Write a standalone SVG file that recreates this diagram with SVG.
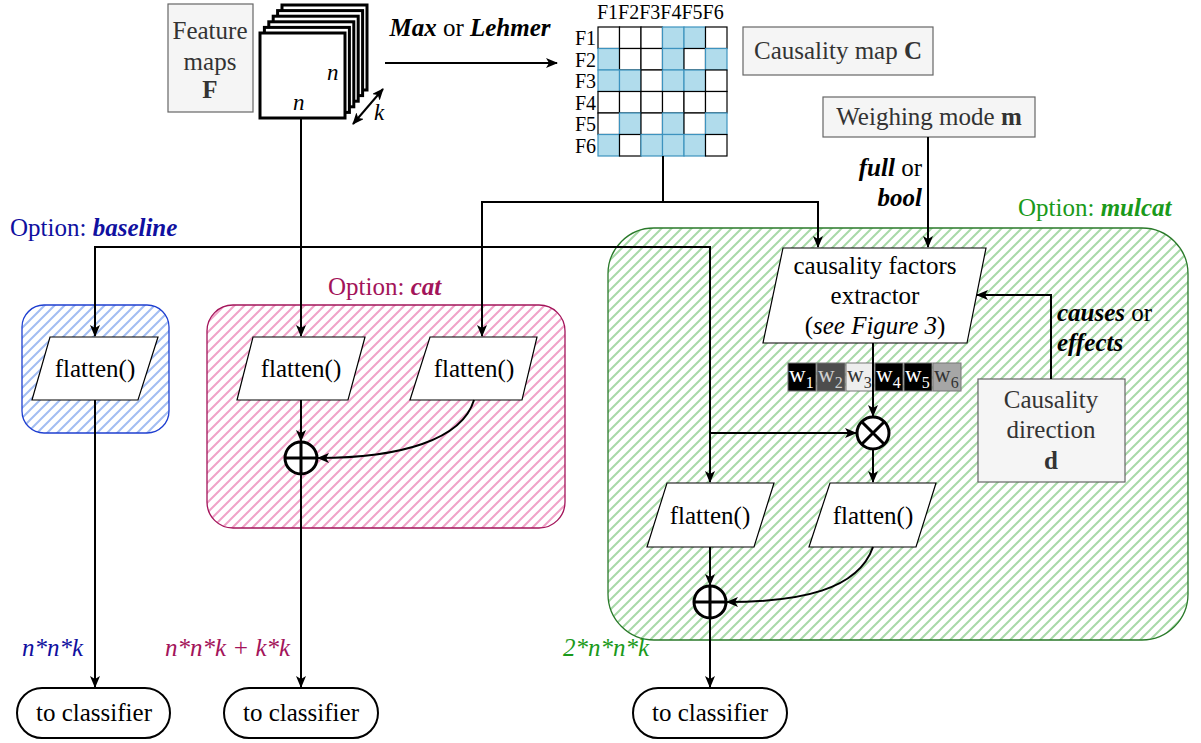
<svg xmlns="http://www.w3.org/2000/svg" width="1201" height="743" viewBox="0 0 1201 743" font-family="Liberation Serif">
<defs>
<marker id="ah" viewBox="0 0 12 10" refX="11" refY="5" markerWidth="12" markerHeight="10" markerUnits="userSpaceOnUse" orient="auto-start-reverse"><path d="M0,0 L12,5 L0,10 L3,5 z" fill="#000"/></marker>
<pattern id="hb" width="10" height="10" patternUnits="userSpaceOnUse"><path d="M0,10 L10,0 M-2,2 L2,-2 M8,12 L12,8" stroke="#a3bdf2" stroke-width="2"/></pattern>
<pattern id="hp" width="10" height="10" patternUnits="userSpaceOnUse"><path d="M0,10 L10,0 M-2,2 L2,-2 M8,12 L12,8" stroke="#f0a3c8" stroke-width="2"/></pattern>
<pattern id="hg" width="10" height="10" patternUnits="userSpaceOnUse"><path d="M0,10 L10,0 M-2,2 L2,-2 M8,12 L12,8" stroke="#a8d9a8" stroke-width="2"/></pattern>
</defs>
<style>
text{font-size:25px;fill:#000}
.gray{fill:#f5f5f5;stroke:#666;stroke-width:1.2}
.gt{fill:#333}
.para{fill:#fff;stroke:#000;stroke-width:1.2}
.c{text-anchor:middle}
.r{text-anchor:end}
.bi{font-weight:bold;font-style:italic}
.it{font-style:italic}
.conn path{fill:none;stroke:#000;stroke-width:2}
.arr{marker-end:url(#ah)}
.sq{fill:#fff;stroke:#000;stroke-width:3}
.cell{fill:#fff;stroke:#000;stroke-width:1.2}
.on{fill:#b1dcec;stroke:#3d93bf;stroke-width:1.2}
.op{fill:#fff;stroke:#000;stroke-width:3}
.oval{fill:#fff;stroke:#000;stroke-width:2}
.wb{stroke:#777;stroke-width:1}
.wt{font-size:23px}
.sub{font-size:16px}
.gl{font-size:20px}
.nk{font-size:23px}
</style>

<g id="opt-baseline">
<rect x="22" y="305" width="147" height="128" rx="22" fill="url(#hb)" stroke="#1f3fd0" stroke-width="1.3"/>
<text font-family="Liberation Serif" x="10" y="236" style="fill:#1010a0">Option: <tspan class="bi">baseline</tspan></text>
</g>
<g id="opt-cat">
<rect x="207" y="305" width="358" height="223" rx="26" fill="url(#hp)" stroke="#a3145a" stroke-width="1.3"/>
<text font-family="Liberation Serif" x="328" y="295" style="fill:#a3145a">Option: <tspan class="bi">cat</tspan></text>
</g>
<g id="opt-mulcat">
<rect x="608" y="228" width="580" height="412" rx="46" fill="url(#hg)" stroke="#2a7a2a" stroke-width="1.3"/>
<text font-family="Liberation Serif" x="1018" y="216" style="fill:#1a9a1a">Option: <tspan class="bi">mulcat</tspan></text>
</g>

<g id="feature-maps">
<rect class="gray" x="168" y="4" width="85" height="108"/>
<text font-family="Liberation Serif" class="c gt" x="210" y="39">Feature</text>
<text font-family="Liberation Serif" class="c gt" x="210" y="70">maps</text>
<text font-family="Liberation Serif" class="c gt" x="210" y="98" font-weight="bold">F</text>
</g>
<g id="stack">
<rect class="sq" x="282" y="5" width="85" height="85"/>
<rect class="sq" x="277.6" y="10.6" width="85" height="85"/>
<rect class="sq" x="273.2" y="16.2" width="85" height="85"/>
<rect class="sq" x="268.8" y="21.8" width="85" height="85"/>
<rect class="sq" x="264.4" y="27.4" width="85" height="85"/>
<rect class="sq" x="260" y="33" width="85" height="85"/>
<text font-family="Liberation Serif" class="it nk" x="327" y="80">n</text>
<text font-family="Liberation Serif" class="it nk" x="293" y="110">n</text>
<text font-family="Liberation Serif" class="it nk" x="374" y="120">k</text>
</g>

<g id="causality-grid">
<text font-family="Liberation Serif" class="gl" x="597" y="19">F1F2F3F4F5F6</text>
<text font-family="Liberation Serif" class="gl r" x="596" y="45">F1</text>
<text font-family="Liberation Serif" class="gl r" x="596" y="66.5">F2</text>
<text font-family="Liberation Serif" class="gl r" x="596" y="88">F3</text>
<text font-family="Liberation Serif" class="gl r" x="596" y="109.5">F4</text>
<text font-family="Liberation Serif" class="gl r" x="596" y="131">F5</text>
<text font-family="Liberation Serif" class="gl r" x="596" y="152.5">F6</text>
<rect class="cell" x="598" y="27" width="21.5" height="21.5"/><rect class="cell" x="619.5" y="27" width="21.5" height="21.5"/><rect class="cell" x="641" y="27" width="21.5" height="21.5"/><rect class="on" x="662.5" y="27" width="21.5" height="21.5"/><rect class="on" x="684" y="27" width="21.5" height="21.5"/><rect class="cell" x="705.5" y="27" width="21.5" height="21.5"/>
<rect class="on" x="598" y="48.5" width="21.5" height="21.5"/><rect class="cell" x="619.5" y="48.5" width="21.5" height="21.5"/><rect class="cell" x="641" y="48.5" width="21.5" height="21.5"/><rect class="on" x="662.5" y="48.5" width="21.5" height="21.5"/><rect class="cell" x="684" y="48.5" width="21.5" height="21.5"/><rect class="on" x="705.5" y="48.5" width="21.5" height="21.5"/>
<rect class="on" x="598" y="70" width="21.5" height="21.5"/><rect class="on" x="619.5" y="70" width="21.5" height="21.5"/><rect class="cell" x="641" y="70" width="21.5" height="21.5"/><rect class="on" x="662.5" y="70" width="21.5" height="21.5"/><rect class="on" x="684" y="70" width="21.5" height="21.5"/><rect class="cell" x="705.5" y="70" width="21.5" height="21.5"/>
<rect class="cell" x="598" y="91.5" width="21.5" height="21.5"/><rect class="cell" x="619.5" y="91.5" width="21.5" height="21.5"/><rect class="cell" x="641" y="91.5" width="21.5" height="21.5"/><rect class="cell" x="662.5" y="91.5" width="21.5" height="21.5"/><rect class="cell" x="684" y="91.5" width="21.5" height="21.5"/><rect class="cell" x="705.5" y="91.5" width="21.5" height="21.5"/>
<rect class="cell" x="598" y="113" width="21.5" height="21.5"/><rect class="on" x="619.5" y="113" width="21.5" height="21.5"/><rect class="cell" x="641" y="113" width="21.5" height="21.5"/><rect class="on" x="662.5" y="113" width="21.5" height="21.5"/><rect class="cell" x="684" y="113" width="21.5" height="21.5"/><rect class="on" x="705.5" y="113" width="21.5" height="21.5"/>
<rect class="on" x="598" y="134.5" width="21.5" height="21.5"/><rect class="cell" x="619.5" y="134.5" width="21.5" height="21.5"/><rect class="on" x="641" y="134.5" width="21.5" height="21.5"/><rect class="on" x="662.5" y="134.5" width="21.5" height="21.5"/><rect class="on" x="684" y="134.5" width="21.5" height="21.5"/><rect class="cell" x="705.5" y="134.5" width="21.5" height="21.5"/>
</g>

<g id="causality-map-label">
<rect class="gray" x="743" y="27" width="190" height="48"/>
<text font-family="Liberation Serif" class="c gt" x="838" y="59">Causality map <tspan font-weight="bold">C</tspan></text>
</g>
<g id="weighing-mode">
<rect class="gray" x="823" y="97" width="212" height="40"/>
<text font-family="Liberation Serif" class="c gt" x="929" y="125">Weighing mode <tspan font-weight="bold">m</tspan></text>
</g>

<g id="labels">
<text font-family="Liberation Serif" class="c" x="470" y="36"><tspan class="bi">Max</tspan> or <tspan class="bi">Lehmer</tspan></text>
<text font-family="Liberation Serif" class="r" x="922" y="176"><tspan class="bi">full</tspan> or</text>
<text font-family="Liberation Serif" class="r bi" x="922" y="206">bool</text>
<text font-family="Liberation Serif" x="1057" y="321"><tspan class="bi">causes</tspan> or</text>
<text font-family="Liberation Serif" class="bi" x="1057" y="351">effects</text>
<text font-family="Liberation Serif" class="it" x="22" y="656" style="fill:#1010a0">n*n*k</text>
<text font-family="Liberation Serif" class="it" x="165" y="656" style="fill:#a3145a">n*n*k + k*k</text>
<text font-family="Liberation Serif" class="it" x="563" y="656" style="fill:#1a9a1a">2*n*n*k</text>
</g>

<g id="flatten-baseline">
<polygon class="para" points="50,337 158,337 138,400 32,400"/>
<text font-family="Liberation Serif" class="c" x="95" y="377">flatten()</text>
</g>
<g id="flatten-cat1">
<polygon class="para" points="253,337 365,337 348,400 237,400"/>
<text font-family="Liberation Serif" class="c" x="301" y="377">flatten()</text>
</g>
<g id="flatten-cat2">
<polygon class="para" points="430,337 537,337 522,400 410,400"/>
<text font-family="Liberation Serif" class="c" x="474" y="377">flatten()</text>
</g>
<g id="oplus-cat">
<circle class="op" cx="301" cy="458" r="16"/>
<path d="M285 458 H317 M301 442 V474" stroke="#000" stroke-width="3"/>
</g>
<g id="extractor">
<polygon class="para" points="783,248 986,248 967,343 763,343"/>
<text font-family="Liberation Serif" class="c" x="875" y="274">causality factors</text>
<text font-family="Liberation Serif" class="c" x="875" y="304">extractor</text>
<text font-family="Liberation Serif" class="c" x="875" y="334">(<tspan class="it">see Figure 3</tspan>)</text>
</g>
<g id="causality-direction">
<rect class="gray" x="978" y="379" width="147" height="103"/>
<text font-family="Liberation Serif" class="c gt" x="1051" y="408">Causality</text>
<text font-family="Liberation Serif" class="c gt" x="1051" y="438">direction</text>
<text font-family="Liberation Serif" class="c gt" x="1051" y="469" font-weight="bold">d</text>
</g>
<g id="weights">
<rect class="wb" x="788" y="363" width="28" height="28" fill="#000"/>
<rect class="wb" x="817" y="363" width="28" height="28" fill="#4d4d4d"/>
<rect class="wb" x="846" y="363" width="28" height="28" fill="#eeeeee"/>
<rect class="wb" x="875" y="363" width="28" height="28" fill="#000"/>
<rect class="wb" x="904" y="363" width="28" height="28" fill="#000"/>
<rect class="wb" x="933" y="363" width="28" height="28" fill="#a6a6a6"/>
<text font-family="Liberation Serif" class="wt" x="789" y="382" style="fill:#fff">w<tspan class="sub" dy="6">1</tspan></text>
<text font-family="Liberation Serif" class="wt" x="818" y="382" style="fill:#d0d0d0">w<tspan class="sub" dy="6">2</tspan></text>
<text font-family="Liberation Serif" class="wt" x="847" y="382" style="fill:#333">w<tspan class="sub" dy="6">3</tspan></text>
<text font-family="Liberation Serif" class="wt" x="876" y="382" style="fill:#fff">w<tspan class="sub" dy="6">4</tspan></text>
<text font-family="Liberation Serif" class="wt" x="905" y="382" style="fill:#fff">w<tspan class="sub" dy="6">5</tspan></text>
<text font-family="Liberation Serif" class="wt" x="934" y="382" style="fill:#333">w<tspan class="sub" dy="6">6</tspan></text>
</g>
<g id="otimes">
<circle class="op" cx="873" cy="433" r="16"/>
<path d="M861.7 421.7 L884.3 444.3 M884.3 421.7 L861.7 444.3" stroke="#000" stroke-width="3"/>
</g>
<g id="flatten-mul1">
<polygon class="para" points="667,483 774,483 754,547 647,547"/>
<text font-family="Liberation Serif" class="c" x="710" y="524">flatten()</text>
</g>
<g id="flatten-mul2">
<polygon class="para" points="830,483 936,483 916,547 809,547"/>
<text font-family="Liberation Serif" class="c" x="873" y="524">flatten()</text>
</g>
<g id="oplus-mul">
<circle class="op" cx="710" cy="602" r="16"/>
<path d="M694 602 H726 M710 586 V618" stroke="#000" stroke-width="3"/>
</g>
<g id="classifier1">
<rect class="oval" x="17" y="688" width="153" height="50" rx="25"/>
<text font-family="Liberation Serif" class="c" x="94" y="721">to classifier</text>
</g>
<g id="classifier2">
<rect class="oval" x="224" y="688" width="154" height="50" rx="25"/>
<text font-family="Liberation Serif" class="c" x="301" y="721">to classifier</text>
</g>
<g id="classifier3">
<rect class="oval" x="633" y="688" width="154" height="50" rx="25"/>
<text font-family="Liberation Serif" class="c" x="710" y="721">to classifier</text>
</g>

<g id="connectors" class="conn">
<path class="arr" d="M301 118 V336"/>
<path class="arr" d="M385 63 H557"/>
<path d="M353 124 L383 89" style="marker-start:url(#ah);marker-end:url(#ah)"/>
<path d="M663 156 V202"/>
<path class="arr" d="M663 202 H482 V336"/>
<path class="arr" d="M663 202 H818 V247"/>
<path class="arr" d="M301 247 H95 V336"/>
<path class="arr" d="M301 247 H710 V482"/>
<path class="arr" d="M710 433 H856"/>
<path class="arr" d="M928 137 V247"/>
<path class="arr" d="M1051 379 V295 H977"/>
<path class="arr" d="M873 343 V416"/>
<path class="arr" d="M873 449 V482"/>
<path class="arr" d="M710 547 V585"/>
<path class="arr" d="M873 547 C858 590 800 602 727 602"/>
<path class="arr" d="M710 618 V687"/>
<path class="arr" d="M95 400 V687"/>
<path class="arr" d="M301 400 V441"/>
<path class="arr" d="M474 400 C462 440 400 458 318 458"/>
<path class="arr" d="M301 474 V687"/>
</g>
</svg>
